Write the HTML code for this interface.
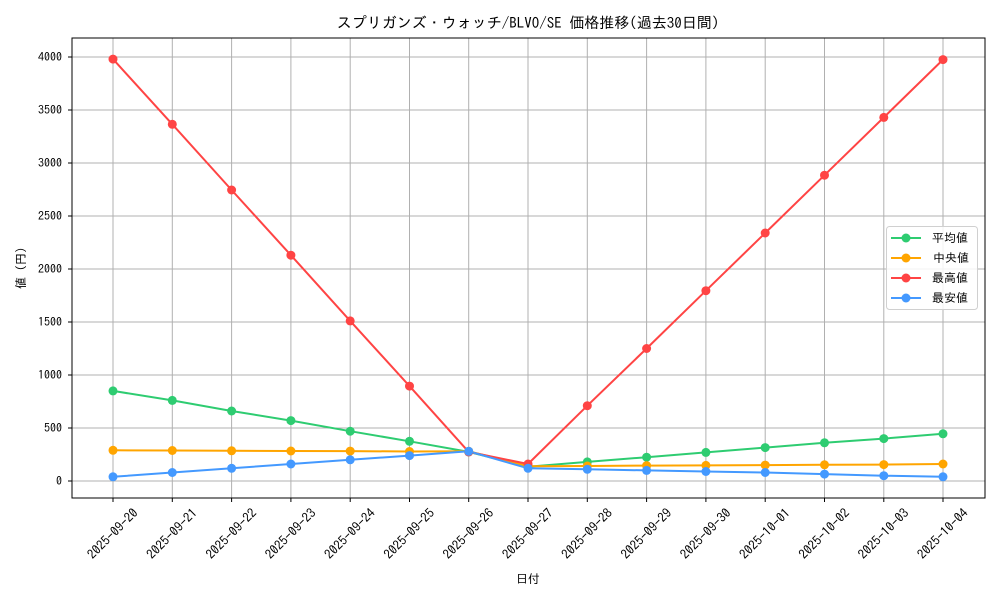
<!DOCTYPE html>
<html><head><meta charset="utf-8"><style>
body{margin:0;background:#fff}
svg text{font-family:"IPAGothic","Liberation Sans","Noto Sans CJK JP",sans-serif;fill:#000}
</style></head><body>
<svg width="1000" height="600" xmlns="http://www.w3.org/2000/svg">
<rect width="1000" height="600" fill="#fff"/>
<g stroke="#b0b0b0" stroke-width="1">
<line x1="72" x2="985" y1="481" y2="481"/><line x1="72" x2="985" y1="428" y2="428"/><line x1="72" x2="985" y1="375" y2="375"/><line x1="72" x2="985" y1="322" y2="322"/><line x1="72" x2="985" y1="269" y2="269"/><line x1="72" x2="985" y1="216" y2="216"/><line x1="72" x2="985" y1="163" y2="163"/><line x1="72" x2="985" y1="110" y2="110"/><line x1="72" x2="985" y1="57" y2="57"/>
<line y1="38" y2="498" x1="113" x2="113"/><line y1="38" y2="498" x1="172.3" x2="172.3"/><line y1="38" y2="498" x1="231.6" x2="231.6"/><line y1="38" y2="498" x1="290.9" x2="290.9"/><line y1="38" y2="498" x1="350.2" x2="350.2"/><line y1="38" y2="498" x1="409.5" x2="409.5"/><line y1="38" y2="498" x1="468.7" x2="468.7"/><line y1="38" y2="498" x1="528" x2="528"/><line y1="38" y2="498" x1="587.3" x2="587.3"/><line y1="38" y2="498" x1="646.6" x2="646.6"/><line y1="38" y2="498" x1="705.9" x2="705.9"/><line y1="38" y2="498" x1="765.2" x2="765.2"/><line y1="38" y2="498" x1="824.5" x2="824.5"/><line y1="38" y2="498" x1="883.8" x2="883.8"/><line y1="38" y2="498" x1="943" x2="943"/>
</g>
<rect x="72" y="38" width="913" height="460" fill="none" stroke="#000" stroke-width="1"/>
<g font-size="12" text-anchor="end">
<text x="62" y="485">0</text><text x="62" y="432">500</text><text x="62" y="379">1000</text><text x="62" y="326">1500</text><text x="62" y="273">2000</text><text x="62" y="220">2500</text><text x="62" y="167">3000</text><text x="62" y="114">3500</text><text x="62" y="61">4000</text>
</g>
<g stroke="#000"><line x1="68" x2="72" y1="481" y2="481"/><line x1="68" x2="72" y1="428" y2="428"/><line x1="68" x2="72" y1="375" y2="375"/><line x1="68" x2="72" y1="322" y2="322"/><line x1="68" x2="72" y1="269" y2="269"/><line x1="68" x2="72" y1="216" y2="216"/><line x1="68" x2="72" y1="163" y2="163"/><line x1="68" x2="72" y1="110" y2="110"/><line x1="68" x2="72" y1="57" y2="57"/>
<line y1="498" y2="502" x1="113" x2="113"/><line y1="498" y2="502" x1="172.3" x2="172.3"/><line y1="498" y2="502" x1="231.6" x2="231.6"/><line y1="498" y2="502" x1="290.9" x2="290.9"/><line y1="498" y2="502" x1="350.2" x2="350.2"/><line y1="498" y2="502" x1="409.5" x2="409.5"/><line y1="498" y2="502" x1="468.7" x2="468.7"/><line y1="498" y2="502" x1="528" x2="528"/><line y1="498" y2="502" x1="587.3" x2="587.3"/><line y1="498" y2="502" x1="646.6" x2="646.6"/><line y1="498" y2="502" x1="705.9" x2="705.9"/><line y1="498" y2="502" x1="765.2" x2="765.2"/><line y1="498" y2="502" x1="824.5" x2="824.5"/><line y1="498" y2="502" x1="883.8" x2="883.8"/><line y1="498" y2="502" x1="943" x2="943"/></g>
<g font-size="13" text-anchor="middle">
<text transform="translate(113,534) rotate(-45)" dy="4">2025-09-20</text>
<text transform="translate(172.3,534) rotate(-45)" dy="4">2025-09-21</text>
<text transform="translate(231.6,534) rotate(-45)" dy="4">2025-09-22</text>
<text transform="translate(290.9,534) rotate(-45)" dy="4">2025-09-23</text>
<text transform="translate(350.2,534) rotate(-45)" dy="4">2025-09-24</text>
<text transform="translate(409.5,534) rotate(-45)" dy="4">2025-09-25</text>
<text transform="translate(468.7,534) rotate(-45)" dy="4">2025-09-26</text>
<text transform="translate(528,534) rotate(-45)" dy="4">2025-09-27</text>
<text transform="translate(587.3,534) rotate(-45)" dy="4">2025-09-28</text>
<text transform="translate(646.6,534) rotate(-45)" dy="4">2025-09-29</text>
<text transform="translate(705.9,534) rotate(-45)" dy="4">2025-09-30</text>
<text transform="translate(765.2,534) rotate(-45)" dy="4">2025-10-01</text>
<text transform="translate(824.5,534) rotate(-45)" dy="4">2025-10-02</text>
<text transform="translate(883.8,534) rotate(-45)" dy="4">2025-10-03</text>
<text transform="translate(943,534) rotate(-45)" dy="4">2025-10-04</text>
</g>
<text x="528" y="583" font-size="12" text-anchor="middle">日付</text>
<text transform="translate(25,268) rotate(-90)" font-size="12" text-anchor="middle">値 (円)</text>
<text x="528" y="28" font-size="15" text-anchor="middle">スプリガンズ・ウォッチ/BLVO/SE 価格推移(過去30日間)</text>
<g fill="none" stroke-width="2">
<polyline stroke="#2ecc71" points="113,390.9 172.3,400.4 231.6,411 290.9,420.6 350.2,431.2 409.5,441.3 468.7,451.9 528,466.7 587.3,461.9 646.6,457.2 705.9,452.4 765.2,447.6 824.5,442.8 883.8,438.6 943,433.8"/>
<polyline stroke="#ffa500" points="113,450.3 172.3,450.5 231.6,450.8 290.9,451 350.2,451.1 409.5,451.5 468.7,451.3 528,466.2 587.3,466 646.6,465.6 705.9,465.4 765.2,465.1 824.5,464.8 883.8,464.6 943,464"/>
<polyline stroke="#ff4444" points="113,59.1 172.3,124.3 231.6,190 290.9,255.2 350.2,320.9 409.5,386.1 468.7,451.9 528,464 587.3,405.7 646.6,348.5 705.9,290.7 765.2,233 824.5,175.2 883.8,117.4 943,59.6"/>
<polyline stroke="#4499ff" points="113,476.8 172.3,472.5 231.6,468.3 290.9,464 350.2,459.8 409.5,455.6 468.7,451.3 528,468.3 587.3,469.3 646.6,470.4 705.9,471.5 765.2,472.5 824.5,474.1 883.8,475.7 943,476.8"/>
</g>
<g fill="#2ecc71"><circle cx="113" cy="390.9" r="4.5"/><circle cx="172.3" cy="400.4" r="4.5"/><circle cx="231.6" cy="411" r="4.5"/><circle cx="290.9" cy="420.6" r="4.5"/><circle cx="350.2" cy="431.2" r="4.5"/><circle cx="409.5" cy="441.3" r="4.5"/><circle cx="468.7" cy="451.9" r="4.5"/><circle cx="528" cy="466.7" r="4.5"/><circle cx="587.3" cy="461.9" r="4.5"/><circle cx="646.6" cy="457.2" r="4.5"/><circle cx="705.9" cy="452.4" r="4.5"/><circle cx="765.2" cy="447.6" r="4.5"/><circle cx="824.5" cy="442.8" r="4.5"/><circle cx="883.8" cy="438.6" r="4.5"/><circle cx="943" cy="433.8" r="4.5"/></g>
<g fill="#ffa500"><circle cx="113" cy="450.3" r="4.5"/><circle cx="172.3" cy="450.5" r="4.5"/><circle cx="231.6" cy="450.8" r="4.5"/><circle cx="290.9" cy="451" r="4.5"/><circle cx="350.2" cy="451.1" r="4.5"/><circle cx="409.5" cy="451.5" r="4.5"/><circle cx="468.7" cy="451.3" r="4.5"/><circle cx="528" cy="466.2" r="4.5"/><circle cx="587.3" cy="466" r="4.5"/><circle cx="646.6" cy="465.6" r="4.5"/><circle cx="705.9" cy="465.4" r="4.5"/><circle cx="765.2" cy="465.1" r="4.5"/><circle cx="824.5" cy="464.8" r="4.5"/><circle cx="883.8" cy="464.6" r="4.5"/><circle cx="943" cy="464" r="4.5"/></g>
<g fill="#ff4444"><circle cx="113" cy="59.1" r="4.5"/><circle cx="172.3" cy="124.3" r="4.5"/><circle cx="231.6" cy="190" r="4.5"/><circle cx="290.9" cy="255.2" r="4.5"/><circle cx="350.2" cy="320.9" r="4.5"/><circle cx="409.5" cy="386.1" r="4.5"/><circle cx="468.7" cy="451.9" r="4.5"/><circle cx="528" cy="464" r="4.5"/><circle cx="587.3" cy="405.7" r="4.5"/><circle cx="646.6" cy="348.5" r="4.5"/><circle cx="705.9" cy="290.7" r="4.5"/><circle cx="765.2" cy="233" r="4.5"/><circle cx="824.5" cy="175.2" r="4.5"/><circle cx="883.8" cy="117.4" r="4.5"/><circle cx="943" cy="59.6" r="4.5"/></g>
<g fill="#4499ff"><circle cx="113" cy="476.8" r="4.5"/><circle cx="172.3" cy="472.5" r="4.5"/><circle cx="231.6" cy="468.3" r="4.5"/><circle cx="290.9" cy="464" r="4.5"/><circle cx="350.2" cy="459.8" r="4.5"/><circle cx="409.5" cy="455.6" r="4.5"/><circle cx="468.7" cy="451.3" r="4.5"/><circle cx="528" cy="468.3" r="4.5"/><circle cx="587.3" cy="469.3" r="4.5"/><circle cx="646.6" cy="470.4" r="4.5"/><circle cx="705.9" cy="471.5" r="4.5"/><circle cx="765.2" cy="472.5" r="4.5"/><circle cx="824.5" cy="474.1" r="4.5"/><circle cx="883.8" cy="475.7" r="4.5"/><circle cx="943" cy="476.8" r="4.5"/></g>
<rect x="886.5" y="226.5" width="91" height="83" rx="3" fill="#fff" fill-opacity="0.85" stroke="#d0d0d0"/>
<g stroke-width="2">
<line x1="891" x2="921" y1="238" y2="238" stroke="#2ecc71"/><circle cx="906" cy="238" r="4.5" fill="#2ecc71"/>
<line x1="891" x2="921" y1="258" y2="258" stroke="#ffa500"/><circle cx="906" cy="258" r="4.5" fill="#ffa500"/>
<line x1="891" x2="921" y1="278" y2="278" stroke="#ff4444"/><circle cx="906" cy="278" r="4.5" fill="#ff4444"/>
<line x1="891" x2="921" y1="298" y2="298" stroke="#4499ff"/><circle cx="906" cy="298" r="4.5" fill="#4499ff"/>
</g>
<g font-size="12">
<text x="932" y="242">平均値</text><text x="933" y="262">中央値</text><text x="932" y="282">最高値</text><text x="932" y="302">最安値</text>
</g>
</svg>
</body></html>
